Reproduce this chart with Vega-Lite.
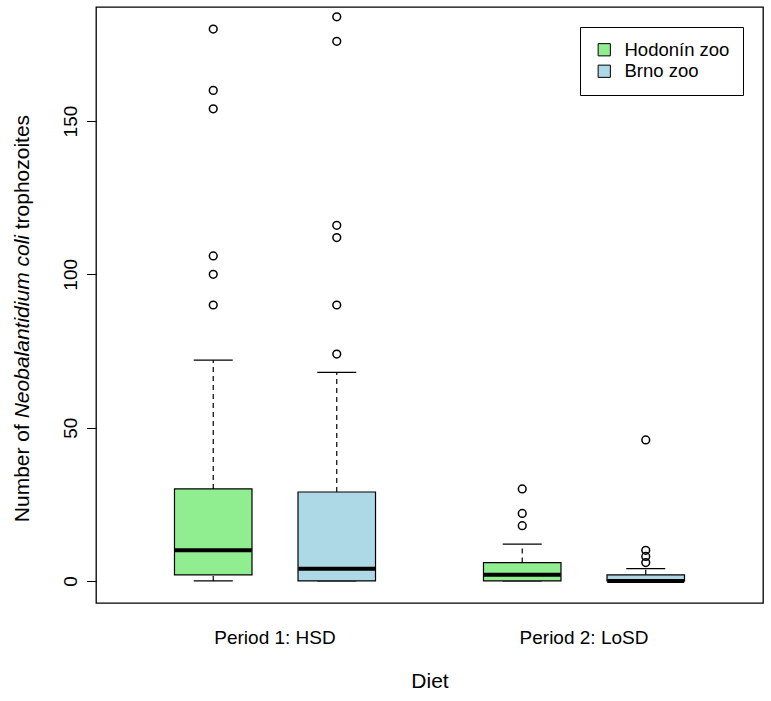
{
  "$schema": "https://vega.github.io/schema/vega-lite/v6.json",
  "width": 667,
  "height": 596,
  "autosize": {"type": "none"},
  "padding": {"left": 96, "top": 7, "right": 8, "bottom": 98},
  "background": "white",
  "config": {
    "font": "Liberation Sans",
    "view": {"stroke": "black", "strokeWidth": 1.3},
    "axis": {"labelColor": "black", "titleColor": "black", "tickColor": "black", "titleFontWeight": "normal", "grid": false}
  },
  "resolve": {"axis": {"y": "independent"}},
  "datasets": {
    "boxes": [
      {"period": "Period 1: HSD", "zoo": "Hodonín zoo", "lower": 0, "q1": 2, "median": 10, "q3": 30, "upper": 72},
      {"period": "Period 1: HSD", "zoo": "Brno zoo", "lower": 0, "q1": 0, "median": 4, "q3": 29, "upper": 68},
      {"period": "Period 2: LoSD", "zoo": "Hodonín zoo", "lower": 0, "q1": 0, "median": 2, "q3": 6, "upper": 12},
      {"period": "Period 2: LoSD", "zoo": "Brno zoo", "lower": 0, "q1": 0, "median": 0, "q3": 2, "upper": 4}
    ],
    "outliers": [
      {"period": "Period 1: HSD", "zoo": "Hodonín zoo", "value": 180},
      {"period": "Period 1: HSD", "zoo": "Hodonín zoo", "value": 160},
      {"period": "Period 1: HSD", "zoo": "Hodonín zoo", "value": 154},
      {"period": "Period 1: HSD", "zoo": "Hodonín zoo", "value": 106},
      {"period": "Period 1: HSD", "zoo": "Hodonín zoo", "value": 100},
      {"period": "Period 1: HSD", "zoo": "Hodonín zoo", "value": 90},
      {"period": "Period 1: HSD", "zoo": "Brno zoo", "value": 184},
      {"period": "Period 1: HSD", "zoo": "Brno zoo", "value": 176},
      {"period": "Period 1: HSD", "zoo": "Brno zoo", "value": 116},
      {"period": "Period 1: HSD", "zoo": "Brno zoo", "value": 112},
      {"period": "Period 1: HSD", "zoo": "Brno zoo", "value": 90},
      {"period": "Period 1: HSD", "zoo": "Brno zoo", "value": 74},
      {"period": "Period 2: LoSD", "zoo": "Hodonín zoo", "value": 30},
      {"period": "Period 2: LoSD", "zoo": "Hodonín zoo", "value": 22},
      {"period": "Period 2: LoSD", "zoo": "Hodonín zoo", "value": 18},
      {"period": "Period 2: LoSD", "zoo": "Brno zoo", "value": 46},
      {"period": "Period 2: LoSD", "zoo": "Brno zoo", "value": 10},
      {"period": "Period 2: LoSD", "zoo": "Brno zoo", "value": 8},
      {"period": "Period 2: LoSD", "zoo": "Brno zoo", "value": 6}
    ]
  },
  "encoding": {
    "x": {
      "field": "period", "type": "nominal",
      "sort": ["Period 1: HSD", "Period 2: LoSD"],
      "scale": {"paddingInner": 0, "paddingOuter": 0.0793},
      "axis": {"title": "Diet", "labelAngle": 0, "ticks": false, "domain": false, "labelFontSize": 19, "labelBaseline": "top", "labelPadding": 25, "titleFontSize": 21, "titlePadding": 23}
    },
    "xOffset": {
      "field": "zoo", "type": "nominal",
      "sort": ["Hodonín zoo", "Brno zoo"],
      "scale": {"paddingInner": 0.3725, "paddingOuter": 0.437}
    }
  },
  "layer": [
    {
      "data": {"name": "boxes"},
      "mark": {"type": "rule", "color": "black", "strokeWidth": 1.2, "strokeDash": [5, 4]},
      "encoding": {
        "y": {"field": "q3", "type": "quantitative",
          "axis": {"orient": "left", "title": "Number of ", "labels": false, "ticks": false, "domain": false, "titleAngle": -90, "titleAlign": "left", "titleBaseline": "alphabetic", "titleX": -68, "titleY": 514.7, "titleFontSize": 21}},
        "y2": {"field": "upper"}
      }
    },
    {
      "data": {"name": "boxes"},
      "mark": {"type": "rule", "color": "black", "strokeWidth": 1.2, "strokeDash": [5, 4]},
      "encoding": {
        "y": {"field": "lower", "type": "quantitative",
          "axis": {"orient": "left", "title": "Neobalantidium coli", "labels": false, "ticks": false, "domain": false, "titleAngle": -90, "titleAlign": "left", "titleBaseline": "alphabetic", "titleX": -68, "titleY": 410.8, "titleFontSize": 21, "titleFontStyle": "italic"}},
        "y2": {"field": "q1"}
      }
    },
    {
      "data": {"name": "boxes"},
      "mark": {"type": "tick", "color": "black", "size": 39, "thickness": 1.3, "opacity": 1},
      "encoding": {
        "y": {"field": "upper", "type": "quantitative",
          "axis": {"orient": "left", "title": "trophozoites", "labels": false, "ticks": false, "domain": false, "titleAngle": -90, "titleAlign": "left", "titleBaseline": "alphabetic", "titleX": -68, "titleY": 221.8, "titleFontSize": 21}}
      }
    },
    {
      "data": {"name": "boxes"},
      "mark": {"type": "tick", "color": "black", "size": 39, "thickness": 1.3, "opacity": 1},
      "encoding": {
        "y": {"field": "lower", "type": "quantitative", "axis": null}
      }
    },
    {
      "data": {"name": "boxes"},
      "mark": {"type": "bar", "stroke": "black", "strokeWidth": 1.2, "opacity": 1},
      "encoding": {
        "y": {
          "field": "q1", "type": "quantitative",
          "scale": {"domain": [-7.2, 187.2], "nice": false, "zero": false},
          "axis": {"orient": "left", "title": null, "values": [0, 50, 100, 150], "labelAngle": -90, "labelAlign": "center", "labelBaseline": "alphabetic", "tickSize": 9.5, "labelPadding": 10.5, "domain": false, "labelFontSize": 19}
        },
        "y2": {"field": "q3"},
        "color": {
          "field": "zoo", "type": "nominal",
          "sort": ["Hodonín zoo", "Brno zoo"],
          "scale": {"domain": ["Hodonín zoo", "Brno zoo"], "range": ["#90EE90", "#ADD8E6"]},
          "legend": {"title": null, "orient": "none", "legendX": 484, "legendY": 20, "strokeColor": "black", "fillColor": "white", "padding": 13.5, "symbolType": "square", "symbolSize": 150, "symbolStrokeColor": "black", "symbolStrokeWidth": 1, "labelFontSize": 18.5, "labelColor": "black", "symbolOffset": 1.5, "rowPadding": 2.5, "labelOffset": 11, "cornerRadius": 0}
        }
      }
    },
    {
      "data": {"name": "boxes"},
      "mark": {"type": "tick", "color": "black", "size": 77, "thickness": 4, "opacity": 1},
      "encoding": {
        "y": {"field": "median", "type": "quantitative", "axis": null}
      }
    },
    {
      "data": {"name": "outliers"},
      "mark": {"type": "point", "shape": "circle", "filled": false, "stroke": "black", "strokeWidth": 1.5, "size": 60, "opacity": 1},
      "encoding": {
        "y": {"field": "value", "type": "quantitative", "axis": null}
      }
    }
  ]
}
